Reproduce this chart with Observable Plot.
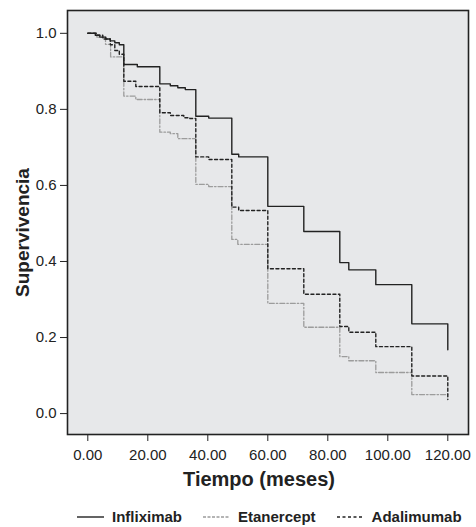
<!DOCTYPE html>
<html>
<head>
<meta charset="utf-8">
<script src="https://cdn.jsdelivr.net/npm/d3@7"></script>
<script src="https://cdn.jsdelivr.net/npm/@observablehq/plot@0.6"></script>
<style>
  body { margin: 0; background: #fff; font-family: "Liberation Sans", Arial, sans-serif; }
  #legend { display: flex; justify-content: flex-start; align-items: center; height: 23px; padding-left: 77px; font-weight: bold; font-size: 15px; color: #222; }
  #legend .item { display: flex; align-items: center; margin-right: 21px; }
  #legend svg { margin-right: 8px; }
</style>
</head>
<body>
<div id="chart"></div>
<div id="legend"></div>
<script>
const series = ["Infliximab", "Etanercept", "Adalimumab"];

const inflixTime = [0, 2.5, 4, 6, 7.5, 9, 10.5, 12, 16.5, 24, 27.5, 30, 32.5, 36, 40.3, 48, 50.3, 60, 72, 84, 87, 96, 108, 120];
const inflixSurv = [1.0, 0.995, 0.99, 0.985, 0.98, 0.975, 0.97, 0.918, 0.912, 0.867, 0.862, 0.857, 0.852, 0.782, 0.777, 0.682, 0.675, 0.545, 0.479, 0.397, 0.378, 0.339, 0.236, 0.168];

const etanTime = [0, 3, 5.9, 7.6, 12, 16, 24, 27.5, 30, 36, 40.3, 48, 50, 60, 72, 84, 87, 96, 108, 120];
const etanSurv = [1.0, 0.99, 0.971, 0.938, 0.835, 0.826, 0.740, 0.736, 0.723, 0.603, 0.597, 0.458, 0.445, 0.290, 0.227, 0.150, 0.139, 0.108, 0.050, 0.050];

const adaliTime = [0, 3, 5, 7.5, 9, 10.5, 12, 16, 24, 27.5, 32, 34, 36, 40.3, 48, 50.3, 60, 72, 84, 87, 96, 108, 120];
const adaliSurv = [1.0, 0.995, 0.985, 0.97, 0.955, 0.945, 0.874, 0.860, 0.791, 0.784, 0.778, 0.776, 0.675, 0.668, 0.543, 0.534, 0.381, 0.314, 0.229, 0.214, 0.176, 0.099, 0.037];

const xTicks = [0, 20, 40, 60, 80, 100, 120];
const yTicks = [0, 0.2, 0.4, 0.6, 0.8, 1.0];

const toRows = (t, s) => t.map((d, i) => ({t: d, s: s[i]}));
const inflix = toRows(inflixTime, inflixSurv);
const etan = toRows(etanTime, etanSurv);
const adali = toRows(adaliTime, adaliSurv);

const styles = {
  Infliximab: {stroke: "#222", strokeWidth: 1.4, dash: null},
  Etanercept: {stroke: "#9c9c9c", strokeWidth: 1.3, dash: "5,2,1.5,2"},
  Adalimumab: {stroke: "#222", strokeWidth: 1.4, dash: "3,2.5"}
};

const font = "Liberation Sans, Arial, sans-serif";

const chart = Plot.plot({
  width: 476,
  height: 505,
  marginTop: 10,
  marginBottom: 71,
  marginLeft: 67,
  marginRight: 8,
  style: {fontFamily: font, fontSize: "15px", color: "#222", background: "#fff"},
  x: {domain: [-6.77, 126.9], label: null},
  y: {domain: [-0.055, 1.06], label: null},
  marks: [
    Plot.frame({fill: "#e7e8ea"}),
    Plot.line(etan, {x: "t", y: "s", curve: "step-after", stroke: styles.Etanercept.stroke, strokeWidth: styles.Etanercept.strokeWidth, strokeDasharray: styles.Etanercept.dash}),
    Plot.line(adali, {x: "t", y: "s", curve: "step-after", stroke: styles.Adalimumab.stroke, strokeWidth: styles.Adalimumab.strokeWidth, strokeDasharray: styles.Adalimumab.dash}),
    Plot.line(inflix, {x: "t", y: "s", curve: "step-after", stroke: styles.Infliximab.stroke, strokeWidth: styles.Infliximab.strokeWidth}),
    Plot.axisX({ticks: xTicks, tickFormat: d3.format(".2f"), tickSize: 7, tickPadding: 8, label: null, stroke: "#222"}),
    Plot.axisY({ticks: yTicks, tickFormat: d3.format(".1f"), tickSize: 7, tickPadding: 4, label: null, stroke: "#222"}),
    Plot.frame({stroke: "#222", strokeWidth: 1.6}),
    Plot.text(["Tiempo (meses)"], {frameAnchor: "bottom", dy: 51, dx: -9, fontSize: 20, fontWeight: "bold", fill: "#222"}),
    Plot.text(["Supervivencia"], {frameAnchor: "left", textAnchor: "middle", dx: -45, dy: 10, rotate: -90, fontSize: 19, fontWeight: "bold", fill: "#222"})
  ]
});
document.getElementById("chart").appendChild(chart);

const legend = document.getElementById("legend");
for (const name of series) {
  const st = styles[name];
  const item = document.createElement("div");
  item.className = "item";
  const ns = "http://www.w3.org/2000/svg";
  const sv = document.createElementNS(ns, "svg");
  sv.setAttribute("width", 27);
  sv.setAttribute("height", 6);
  const ln = document.createElementNS(ns, "line");
  ln.setAttribute("x1", 0); ln.setAttribute("x2", 27);
  ln.setAttribute("y1", 3); ln.setAttribute("y2", 3);
  ln.setAttribute("stroke", st.stroke);
  ln.setAttribute("stroke-width", st.strokeWidth);
  if (st.dash) ln.setAttribute("stroke-dasharray", name === "Etanercept" ? "3,1.5" : "3,2.5");
  sv.appendChild(ln);
  item.appendChild(sv);
  const tx = document.createElement("span");
  tx.textContent = name;
  item.appendChild(tx);
  legend.appendChild(item);
}
</script>
</body>
</html>
